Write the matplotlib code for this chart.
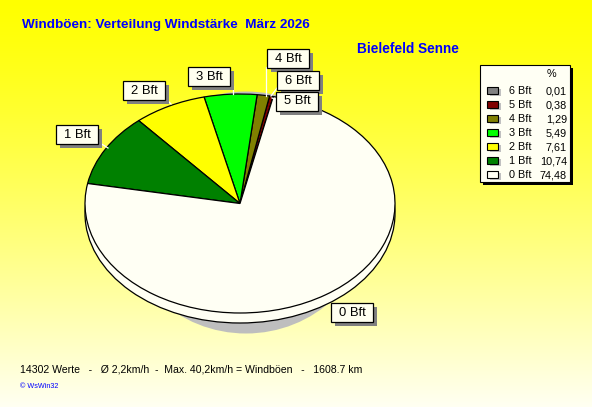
import numpy as np
import matplotlib
matplotlib.use("Agg")
import matplotlib.pyplot as plt
from matplotlib.patches import Rectangle, Ellipse

# ---------------- data ----------------
categories = ["6 Bft", "5 Bft", "4 Bft", "3 Bft", "2 Bft", "1 Bft", "0 Bft"]
percent = [0.01, 0.38, 1.29, 5.49, 7.61, 10.74, 74.48]
percent_labels = ["0,01", "0,38", "1,29", "5,49", "7,61", "10,74", "74,48"]
colors = ["#808080", "#800000", "#808000", "#00FF00", "#FFFF00", "#008000", "#FFFFF4"]
title = "Windböen: Verteilung Windstärke  März 2026"
station = "Bielefeld Senne"
footer = "14302 Werte   -   Ø 2,2km/h  -  Max. 40,2km/h = Windböen   -   1608.7 km"
credit = "© WsWin32"

# ---------------- layout ----------------
W, H = 592, 407
FONT = "Liberation Sans"
pie_box = (85, 94, 395, 313)   # left, top, right, bottom (pixels)
depth_px = 10
start_angle = 77.6
label_pos = {  # label box centres in pixels
    "6 Bft": (298, 80), "5 Bft": (297, 101), "4 Bft": (288, 58),
    "3 Bft": (209, 76), "2 Bft": (144, 90), "1 Bft": (77, 134), "0 Bft": (352, 312),
}
leaders = {
    "4 Bft": ((266, 67), (266, 96)),
    "3 Bft": ((233, 86), (233, 94)),
    "2 Bft": ((166, 99), (171, 104)),
    "1 Bft": ((100, 143), (108, 148)),
    "6 Bft": ((277, 88), (271, 96)),
    "5 Bft": ((276, 100), (272, 98)),
}

fig = plt.figure(figsize=(W / 100, H / 100), dpi=100)

# background gradient
bg = fig.add_axes([0, 0, 1, 1], zorder=0)
t = np.linspace(0, 1, H)[:, None]
grad = np.zeros((H, 1, 3))
grad[..., 0] = 1.0
grad[..., 1] = 1.0
grad[..., 2] = (t ** 1.25) * 0.95
bg.imshow(grad, aspect="auto", extent=(0, W, H, 0))
bg.set_xlim(0, W)
bg.set_ylim(H, 0)
bg.axis("off")

# pie axes (stretched -> ellipse)
l, tp, r, b = pie_box
pax = fig.add_axes([l / W, (H - b) / H, (r - l) / W, (b - tp) / H], zorder=1)
ry_px = (b - tp) / 2
rx_px = (r - l) / 2
d = depth_px / ry_px
# shadow
pax.add_patch(Ellipse((6 / rx_px, -9 / ry_px), 2 * 125 / rx_px, 2 * 121 / ry_px,
                      facecolor="#BEBEBE", edgecolor="none", clip_on=False, zorder=0))
# side of pie
pax.add_patch(Ellipse((0, -d), 2, 2, facecolor=colors[-1], edgecolor="black",
                      linewidth=0.9, clip_on=False, zorder=1))
wedges, _ = pax.pie(percent, colors=colors, startangle=start_angle, counterclock=True,
                    radius=1, wedgeprops=dict(edgecolor="black", linewidth=0.9))
for w in wedges:
    w.set_zorder(2)
    w.set_clip_on(False)
pax.set_aspect("auto")
pax.set_xlim(-1, 1)
pax.set_ylim(-1, 1)
pax.axis("off")

# overlay axes in pixel coordinates
ov = fig.add_axes([0, 0, 1, 1], zorder=2)
ov.set_xlim(0, W)
ov.set_ylim(H, 0)
ov.axis("off")
ov.patch.set_alpha(0)

# leader lines
for name, (p0, p1) in leaders.items():
    ov.plot([p0[0], p1[0]], [p0[1], p1[1]], color="white", linewidth=0.9, zorder=3)

# label boxes
bw, bh = 42, 19
for name in categories:
    cx, cy = label_pos[name]
    ov.add_patch(Rectangle((cx - bw / 2 + 4, cy - bh / 2 + 4), bw, bh,
                           facecolor="#808080", edgecolor="none", zorder=4))
    ov.add_patch(Rectangle((cx - bw / 2, cy - bh / 2), bw, bh,
                           facecolor="#FFFFF0", edgecolor="black", linewidth=0.9, zorder=5))
    ov.text(cx, cy + 0.5, name, ha="center", va="center", fontsize=9.4,
            family=FONT, color="black", zorder=6)

# titles
ov.text(22, 25, title, ha="left", va="center", fontsize=9.7, fontweight="bold",
        family=FONT, color="#0000FF")
ov.text(357, 49, station, ha="left", va="center", fontsize=9.8, fontweight="bold",
        family=FONT, color="#0000FF")

# legend
lx0, ly0, lx1, ly1 = 480, 65, 570, 182
ov.add_patch(Rectangle((lx0 + 3, ly0 + 3), lx1 - lx0, ly1 - ly0, facecolor="black",
                       edgecolor="none", zorder=4))
ov.add_patch(Rectangle((lx0, ly0), lx1 - lx0, ly1 - ly0, facecolor="#FFFFF4",
                       edgecolor="black", linewidth=0.8, zorder=5))
ov.text(551, 74, "%", ha="center", va="center", fontsize=7.8, family=FONT, zorder=6)
for i, (name, val, c) in enumerate(zip(categories, percent_labels, colors)):
    y = 91 + i * 14
    ov.add_patch(Rectangle((490, y - 2), 11, 7, facecolor="#C0C0C0", edgecolor="none", zorder=6))
    ov.add_patch(Rectangle((487, y - 4), 11, 7, facecolor=c, edgecolor="black",
                           linewidth=0.8, zorder=7))
    ov.text(509, y, name, ha="left", va="center", fontsize=7.8, family=FONT, zorder=7)
    ov.text(567, y, val, ha="right", va="center", fontsize=7.8, family=FONT, zorder=7)

# footer
ov.text(20, 369, footer, ha="left", va="center", fontsize=7.6, family=FONT, color="black")
ov.text(20, 386, credit, ha="left", va="center", fontsize=5.2, family=FONT, color="#0000FF")

fig.savefig("out.png", dpi=100)
